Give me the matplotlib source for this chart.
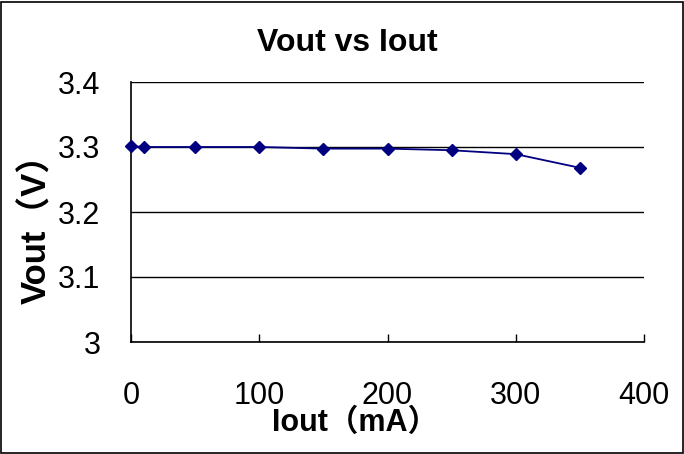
import matplotlib
matplotlib.use("Agg")
import matplotlib.pyplot as plt
import matplotlib.patches as mp

plt.rcParams["font.family"] = ["Liberation Sans", "Noto Sans CJK SC", "DejaVu Sans"]

# data
iout = [0, 10, 50, 100, 150, 200, 250, 300, 350]
vout = [3.3015, 3.300, 3.300, 3.300, 3.2975, 3.2975, 3.295, 3.289, 3.268]
xticks = [0, 100, 200, 300, 400]
yticks = [3.0, 3.1, 3.2, 3.3, 3.4]
ytick_labels = ["3", "3.1", "3.2", "3.3", "3.4"]

W, H = 684, 454
fig = plt.figure(figsize=(W / 100, H / 100), dpi=100)
ax = fig.add_axes([131 / W, 1 - 342 / H, (644 - 131) / W, (342 - 82) / H])

ax.plot(iout, vout, color="#000080", lw=1.3, marker="D", ms=6.5, zorder=3, clip_on=False)

ax.set_xlim(0, 400)
ax.set_ylim(3.0, 3.4)
ax.set_xticks(xticks)
ax.set_yticks(yticks)
ax.set_yticklabels(ytick_labels)
ax.tick_params(axis="x", direction="in", length=6, width=1, pad=28, labelsize=22)
ax.tick_params(axis="y", length=0, pad=22, labelsize=22)
ax.grid(axis="y", color="black", lw=1)
ax.set_axisbelow(True)
for s in ["top", "right"]:
    ax.spines[s].set_visible(False)
for s in ["left", "bottom"]:
    ax.spines[s].set_linewidth(1.2)

fig.text(347 / W, 1 - 43 / H, "Vout vs Iout", ha="center", va="center",
         fontsize=23, fontweight="bold")
fig.text(355 / W, 1 - 423 / H, "Iout（mA）", ha="center", va="center",
         fontsize=22, fontweight="bold")
fig.text(37 / W, 1 - 220 / H, "Vout（V）", ha="center", va="center",
         fontsize=25, fontweight="bold", rotation=90)

# outer frame
fig.patches.append(mp.Rectangle((0.5 / W, 1.5 / H), (W - 2) / W, (H - 3) / H,
                                transform=fig.transFigure, fill=False,
                                edgecolor="black", lw=1.2))

fig.savefig("out.png", dpi=100)
